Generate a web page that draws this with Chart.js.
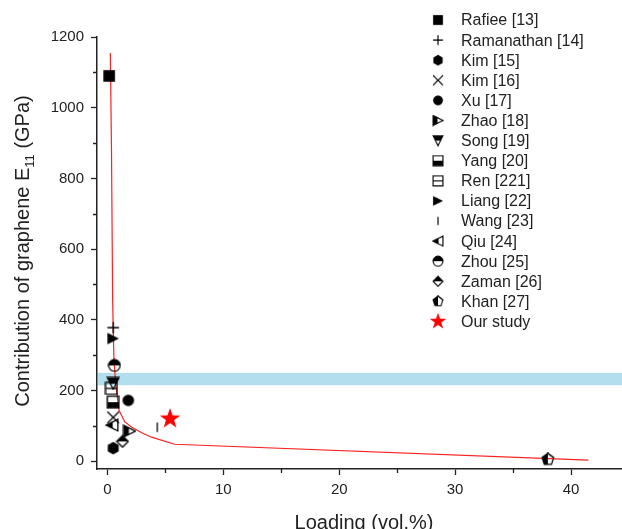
<!DOCTYPE html>
<html>
<head>
<meta charset="utf-8">
<script src="https://cdn.jsdelivr.net/npm/chart.js@4"></script>
<style>
  html, body { margin: 0; padding: 0; background: #fff; }
  canvas { display: block; }
</style>
</head>
<body>
<canvas id="modulusChart" width="622" height="529"></canvas>
<script>
// data
const studies = ['Rafiee [13]', 'Ramanathan [14]', 'Kim [15]', 'Kim [16]', 'Xu [17]', 'Zhao [18]', 'Song [19]',
  'Yang [20]', 'Ren [221]', 'Liang [22]', 'Wang [23]', 'Qiu [24]', 'Zhou [25]', 'Zaman [26]', 'Khan [27]', 'Our study'];
const loading = [0.15, 0.5, 0.5, 0.5, 1.8, 1.9, 0.5, 0.5, 0.35, 0.5, 4.3, 0.4, 0.6, 1.3, 38, 5.4];
const modulus = [1090, 378, 37, 124, 172, 85, 220, 167, 206, 347, 96, 102, 271, 56, 5, 120];

const fitX = [0.25, 0.35, 0.45, 0.55, 0.7, 1.0, 1.5, 2.1, 3.0, 3.8, 5.8, 41.5];
const fitY = [1155, 880, 455, 300, 221, 144, 111, 96, 80, 68, 48, 3];

const band = [215, 250];

const xTicks = [0, 10, 20, 30, 40];
const xMinor = [5, 15, 25, 35];
const yTicks = [0, 200, 400, 600, 800, 1000, 1200];
const yMinor = [100, 300, 500, 700, 900, 1100];

const FONT = 'Liberation Sans, Arial, sans-serif';
const INK = '#222';

// small canvases used as point styles
function marker(size, paint) {
    const c = document.createElement('canvas');
    c.width = size;
    c.height = size;
    const g = c.getContext('2d');
    g.translate(size / 2, size / 2);
    g.lineWidth = 1.3;
    g.strokeStyle = '#000';
    g.fillStyle = '#000';
    paint(g, size / 2 - 1.2);
    return c;
}

function poly(g, pts) {
    g.beginPath();
    g.moveTo(pts[0][0], pts[0][1]);
    for (let i = 1; i < pts.length; i++) g.lineTo(pts[i][0], pts[i][1]);
    g.closePath();
}

function halfFilled(g, pts, rect) {
    poly(g, pts);
    g.save();
    g.clip();
    g.fillRect(rect[0], rect[1], rect[2], rect[3]);
    g.restore();
    poly(g, pts);
    g.stroke();
}

function ngon(n, r, rot) {
    const pts = [];
    for (let i = 0; i < n; i++) {
        const a = rot + i * 2 * Math.PI / n;
        pts.push([r * Math.cos(a), r * Math.sin(a)]);
    }
    return pts;
}

const S = 14;
const markers = [
    marker(S, (g, r) => { g.fillRect(-r, -r, 2 * r, 2 * r); }),
    marker(S, (g, r) => { g.beginPath(); g.moveTo(-r, 0); g.lineTo(r, 0); g.moveTo(0, -r); g.lineTo(0, r); g.stroke(); }),
    marker(S, (g, r) => { poly(g, ngon(6, r + 0.5, Math.PI / 6)); g.fill(); }),
    marker(S, (g, r) => { g.beginPath(); g.moveTo(-r, -r); g.lineTo(r, r); g.moveTo(r, -r); g.lineTo(-r, r); g.stroke(); }),
    marker(S, (g, r) => { g.beginPath(); g.arc(0, 0, r, 0, 2 * Math.PI); g.fill(); }),
    marker(S, (g, r) => { halfFilled(g, [[-r, -r], [r, 0], [-r, r]], [-r, -r, r * 0.9, 2 * r]); }),
    marker(S, (g, r) => { halfFilled(g, [[-r, -r], [r, -r], [0, r]], [-r, -r, 2 * r, r]); }),
    marker(S, (g, r) => { halfFilled(g, [[-r, -r], [r, -r], [r, r], [-r, r]], [-r, 0, 2 * r, r]); }),
    marker(S, (g, r) => { poly(g, [[-r, -r], [r, -r], [r, r], [-r, r]]); g.stroke(); g.beginPath(); g.moveTo(-r, 0); g.lineTo(r, 0); g.stroke(); }),
    marker(S, (g, r) => { poly(g, [[-r, -r], [r, 0], [-r, r]]); g.fill(); }),
    marker(S, (g, r) => { g.beginPath(); g.moveTo(0, -r + 1); g.lineTo(0, r - 1); g.stroke(); }),
    marker(S, (g, r) => { halfFilled(g, [[r, -r], [-r, 0], [r, r]], [-r, -r, r * 1.1, 2 * r]); }),
    marker(S, (g, r) => { g.beginPath(); g.arc(0, 0, r, 0, 2 * Math.PI); g.save(); g.clip(); g.fillRect(-r, -r, 2 * r, r); g.restore(); g.beginPath(); g.arc(0, 0, r, 0, 2 * Math.PI); g.stroke(); }),
    marker(S, (g, r) => { halfFilled(g, [[0, -r], [r, 0], [0, r], [-r, 0]], [-r, -r, 2 * r, r]); }),
    marker(S, (g, r) => { halfFilled(g, ngon(5, r + 0.3, -Math.PI / 2), [-r, -r, r, 2 * r]); }),
    marker(24, (g, r) => {
        const pts = [];
        for (let i = 0; i < 10; i++) {
            const rr = i % 2 === 0 ? r : r * 0.4;
            const a = -Math.PI / 2 + i * Math.PI / 5;
            pts.push([rr * Math.cos(a), rr * Math.sin(a)]);
        }
        g.fillStyle = '#ff0000';
        poly(g, pts);
        g.fill();
    })
];

const scatterSets = studies.map((name, i) => ({
    type: 'scatter',
    label: name,
    data: [{ x: loading[i], y: modulus[i] }],
    pointStyle: markers[i],
    pointRadius: 6,
    order: 1
}));

const fitSet = {
    type: 'line',
    label: 'fit',
    data: fitX.map((x, i) => ({ x: x, y: fitY[i] })),
    borderColor: '#ff2020',
    borderWidth: 1.2,
    pointRadius: 0,
    tension: 0,
    fill: false,
    order: 2
};

// light blue band behind the points
const bandPlugin = {
    id: 'band',
    beforeDatasetsDraw(chart) {
        const { ctx, chartArea, scales } = chart;
        const top = scales.y.getPixelForValue(band[1]);
        const bottom = scales.y.getPixelForValue(band[0]);
        ctx.save();
        ctx.fillStyle = '#b2deee';
        ctx.fillRect(chartArea.left + 1, top, chartArea.right - chartArea.left, bottom - top);
        ctx.restore();
    }
};

// shorter minor ticks, titles and the legend
const decorPlugin = {
    id: 'decor',
    afterDraw(chart) {
        const { ctx, chartArea, scales } = chart;
        ctx.save();
        ctx.strokeStyle = INK;
        ctx.lineWidth = 1.3;
        ctx.beginPath();
        yMinor.forEach(v => {
            const p = Math.round(scales.y.getPixelForValue(v)) + 0.5;
            ctx.moveTo(chartArea.left - 4, p);
            ctx.lineTo(chartArea.left, p);
        });
        xMinor.forEach(v => {
            const p = Math.round(scales.x.getPixelForValue(v)) + 0.5;
            ctx.moveTo(p, chartArea.bottom);
            ctx.lineTo(p, chartArea.bottom + 4);
        });
        ctx.stroke();

        ctx.fillStyle = INK;
        // x title
        ctx.font = '20px ' + FONT;
        ctx.textAlign = 'center';
        ctx.textBaseline = 'alphabetic';
        ctx.fillText('Loading (vol.%)', 364, 529);

        // y title with subscript
        const a = 'Contribution of graphene E';
        const sub = '11';
        const b = ' (GPa)';
        ctx.font = '20px ' + FONT;
        const wa = ctx.measureText(a).width;
        const wb = ctx.measureText(b).width;
        ctx.font = '13px ' + FONT;
        const ws = ctx.measureText(sub).width;
        const total = wa + ws + wb;
        ctx.translate(29, 251);
        ctx.rotate(-Math.PI / 2);
        ctx.textAlign = 'left';
        let x0 = -total / 2;
        ctx.font = '20px ' + FONT;
        ctx.fillText(a, x0, 0);
        ctx.font = '13px ' + FONT;
        ctx.fillText(sub, x0 + wa, 5);
        ctx.font = '20px ' + FONT;
        ctx.fillText(b, x0 + wa + ws, 0);
        ctx.setTransform(1, 0, 0, 1, 0, 0);

        // legend
        ctx.font = '16px ' + FONT;
        ctx.textAlign = 'left';
        ctx.textBaseline = 'middle';
        studies.forEach((name, i) => {
            const y = 20 + i * 20.1;
            const m = markers[i];
            const w = i === studies.length - 1 ? 19 : 12;
            ctx.drawImage(m, 438 - w / 2, y - w / 2, w, w);
            ctx.fillText(name, 461, y + 1);
        });
        ctx.restore();
    }
};

const ctx = document.getElementById('modulusChart').getContext('2d');

const myChart = new Chart(ctx, {
    data: {
        datasets: scatterSets.concat([fitSet])
    },
    options: {
        responsive: false,
        animation: false,
        devicePixelRatio: 1,
        layout: {
            autoPadding: false,
            padding: { top: 37, right: 0, left: 0, bottom: 0 }
        },
        scales: {
            x: {
                type: 'linear',
                min: -0.9,
                max: 44.4,
                afterBuildTicks: (scale) => { scale.ticks = xTicks.map(v => ({ value: v })); },
                afterFit: (scale) => { scale.height = 60; },
                grid: {
                    display: true,
                    drawOnChartArea: false,
                    drawTicks: true,
                    tickLength: 6,
                    tickWidth: 1.3,
                    tickColor: INK
                },
                border: { display: true, color: INK, width: 1.5 },
                ticks: {
                    color: INK,
                    padding: 6,
                    maxRotation: 0,
                    callback: (v) => String(v),
                    font: { family: FONT, size: 15 }
                }
            },
            y: {
                type: 'linear',
                min: -22,
                max: 1200,
                afterBuildTicks: (scale) => { scale.ticks = yTicks.map(v => ({ value: v })); },
                afterFit: (scale) => { scale.width = 97; },
                grid: {
                    display: true,
                    drawOnChartArea: false,
                    drawTicks: true,
                    tickLength: 6,
                    tickWidth: 1.3,
                    tickColor: INK
                },
                border: { display: true, color: INK, width: 1.5 },
                ticks: {
                    color: INK,
                    padding: 7,
                    callback: (v) => String(v),
                    font: { family: FONT, size: 15 }
                }
            }
        },
        plugins: {
            legend: { display: false },
            tooltip: { enabled: false }
        }
    },
    plugins: [bandPlugin, decorPlugin]
});
</script>
</body>
</html>
